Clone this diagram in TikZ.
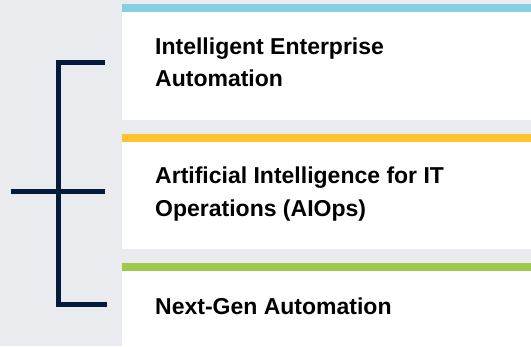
\documentclass[tikz,border=0pt]{standalone}
\usepackage{fontspec}
\setmainfont{Liberation Sans}
\definecolor{pagegray}{HTML}{E9EBEF}
\definecolor{barblue}{HTML}{85CFE1}
\definecolor{baryellow}{HTML}{FFC32E}
\definecolor{bargreen}{HTML}{9EC94A}
\definecolor{navy}{HTML}{021A3C}
\begin{document}
\begin{tikzpicture}[x=1pt,y=-1pt,
    boxtext/.style={anchor=base west,align=left,inner sep=0pt,
        font=\fontsize{23}{32.5}\selectfont\bfseries},
    bracket/.style={draw=navy,line width=5.5pt}]
\useasboundingbox (0,0) rectangle (531,346);
\fill[pagegray](0,0) rectangle (531,346);

% boxes with their top bars
\fill[white](122,12) rectangle (531,120);
\fill[barblue](122,4) rectangle (531,12);
\fill[white](122,142) rectangle (531,249);
\fill[baryellow](122,134) rectangle (531,142);
\fill[white](122,271) rectangle (531,346);
\fill[bargreen](122,263) rectangle (531,271);

% base of a two-line node is its last line
\node[boxtext](iea) at (155,86.8){Intelligent Enterprise\\Automation};
\node[boxtext](aiops) at (155,216){Artificial Intelligence for IT\\Operations (AIOps)};
\node[boxtext](nextgen) at (155,314){Next-Gen Automation};

% bracket
\coordinate (top) at (105,62.5);
\coordinate (bottom) at (107,304.5);
\coordinate (stem) at (10.5,191.5);
\coordinate (tip) at (105,191.5);
\draw[bracket](top)-|(58.5,304.5)--(bottom);
\draw[bracket](stem)--(tip);

\end{tikzpicture}
\end{document}
